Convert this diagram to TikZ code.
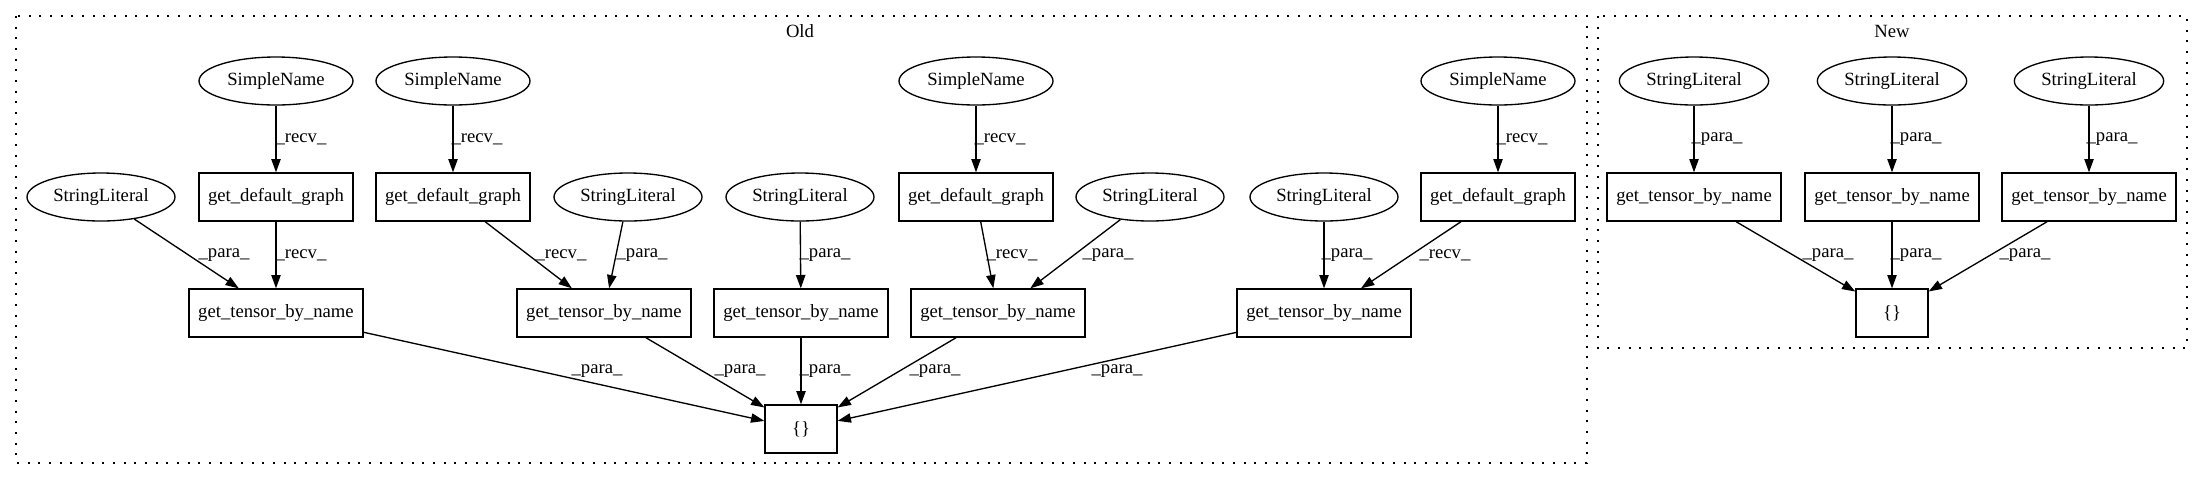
\documentclass[tikz,border=0pt]{standalone}
\usepackage{fontspec}
\setmainfont{Liberation Serif}
\usetikzlibrary{shapes.geometric,arrows.meta}
\begin{document}
\begin{tikzpicture}[x=0.75pt,y=-0.75pt,
  every node/.style={font=\fontsize{14pt}{16pt}\selectfont},
  ell/.style={draw,line width=1pt,ellipse,inner sep=0pt,minimum height=36pt,minimum width=#1},
  ell/.default=115.5pt,
  boxn/.style={draw,line width=1pt,rectangle,inner sep=0pt,minimum height=36pt,minimum width=#1},
  lbl/.style={inner sep=0pt},
  edge/.style={draw,line width=1pt,-{Triangle[length=10pt,width=7pt]}},
  clus/.style={draw,line width=1pt,dash pattern=on 1.5pt off 6.5pt}]
\useasboundingbox (0,0) rectangle (2203,480);
% clusters
\draw[clus] (16,16) rectangle (1587,463);
\draw[clus] (1598,16) rectangle (2187,348);
\node[lbl] (old) at (800,31) {Old};
\node[lbl] (new) at (1892,31) {New};
% Old nodes
\node[ell=115.5pt] (sn1) at (276,81) {SimpleName};
\node[ell=115.5pt] (sn2) at (453,81) {SimpleName};
\node[ell=115.5pt] (sn3) at (976,81) {SimpleName};
\node[ell=115.5pt] (sn4) at (1498,81) {SimpleName};
\node[ell=111pt] (sl1) at (101,197) {StringLiteral};
\node[boxn=115.5pt] (gdg1) at (276,197) {get\_default\_graph};
\node[boxn=115.5pt] (gdg2) at (453,197) {get\_default\_graph};
\node[ell=111pt] (sl2) at (628,197) {StringLiteral};
\node[ell=111pt] (sl3) at (800,197) {StringLiteral};
\node[boxn=115.5pt] (gdg3) at (976,197) {get\_default\_graph};
\node[ell=111pt] (sl4) at (1150,197) {StringLiteral};
\node[ell=111pt] (sl5) at (1324,197) {StringLiteral};
\node[boxn=115.5pt] (gdg4) at (1498,197) {get\_default\_graph};
\node[boxn=130.5pt] (gt1) at (276,313) {get\_tensor\_by\_name};
\node[boxn=130.5pt] (gt2) at (604,313) {get\_tensor\_by\_name};
\node[boxn=130.5pt] (gt3) at (801,313) {get\_tensor\_by\_name};
\node[boxn=130.5pt] (gt4) at (998,313) {get\_tensor\_by\_name};
\node[boxn=130.5pt] (gt5) at (1324,313) {get\_tensor\_by\_name};
\node[boxn=54pt] (br) at (801,429) {\{\}};
% New nodes
\node[ell=112pt] (nsl1) at (1694,81) {StringLiteral};
\node[ell=112pt] (nsl2) at (1892,81) {StringLiteral};
\node[ell=112pt] (nsl3) at (2089,81) {StringLiteral};
\node[boxn=130.5pt] (ngt1) at (1694,197) {get\_tensor\_by\_name};
\node[boxn=130.5pt] (ngt2) at (1892,197) {get\_tensor\_by\_name};
\node[boxn=130.5pt] (ngt3) at (2089,197) {get\_tensor\_by\_name};
\node[boxn=54pt] (nbr) at (1892,313) {\{\}};
% Old edges
\draw[edge] (sn1) -- (gdg1);
\draw[edge] (sn2) -- (gdg2);
\draw[edge] (sn3) -- (gdg3);
\draw[edge] (sn4) -- (gdg4);
\draw[edge] (sl1) -- (gt1);
\draw[edge] (gdg1) -- (gt1);
\draw[edge] (gdg2) -- (gt2);
\draw[edge] (sl2) -- (gt2);
\draw[edge] (sl3) -- (gt3);
\draw[edge] (gdg3) -- (gt4);
\draw[edge] (sl4) -- (gt4);
\draw[edge] (sl5) -- (gt5);
\draw[edge] (gdg4) -- (gt5);
\draw[edge] (gt1) -- (br);
\draw[edge] (gt2) -- (br);
\draw[edge] (gt3) -- (br);
\draw[edge] (gt4) -- (br);
\draw[edge] (gt5) -- (br);
% New edges
\draw[edge] (nsl1) -- (ngt1);
\draw[edge] (nsl2) -- (ngt2);
\draw[edge] (nsl3) -- (ngt3);
\draw[edge] (ngt1) -- (nbr);
\draw[edge] (ngt2) -- (nbr);
\draw[edge] (ngt3) -- (nbr);
% labels
\node[lbl] (e1) at (301,139) {\_recv\_};
\node[lbl] (e2) at (477,139) {\_recv\_};
\node[lbl] (e3) at (1000,139) {\_recv\_};
\node[lbl] (e4) at (1522,139) {\_recv\_};
\node[lbl] (e5) at (224,255) {\_para\_};
\node[lbl] (e6) at (301,255) {\_recv\_};
\node[lbl] (e7) at (561,255) {\_recv\_};
\node[lbl] (e8) at (642,255) {\_para\_};
\node[lbl] (e9) at (825,255) {\_para\_};
\node[lbl] (e10) at (1012,255) {\_recv\_};
\node[lbl] (e11) at (1108,255) {\_para\_};
\node[lbl] (e12) at (1347,255) {\_para\_};
\node[lbl] (e13) at (1445,255) {\_recv\_};
\node[lbl] (e14) at (597,371) {\_para\_};
\node[lbl] (e15) at (740,371) {\_para\_};
\node[lbl] (e16) at (825,371) {\_para\_};
\node[lbl] (e17) at (935,371) {\_para\_};
\node[lbl] (e18) at (1117,371) {\_para\_};
\node[lbl] (e19) at (1717,139) {\_para\_};
\node[lbl] (e20) at (1916,139) {\_para\_};
\node[lbl] (e21) at (2112,139) {\_para\_};
\node[lbl] (e22) at (1828,255) {\_para\_};
\node[lbl] (e23) at (1916,255) {\_para\_};
\node[lbl] (e24) at (2025,255) {\_para\_};
\end{tikzpicture}
\end{document}
